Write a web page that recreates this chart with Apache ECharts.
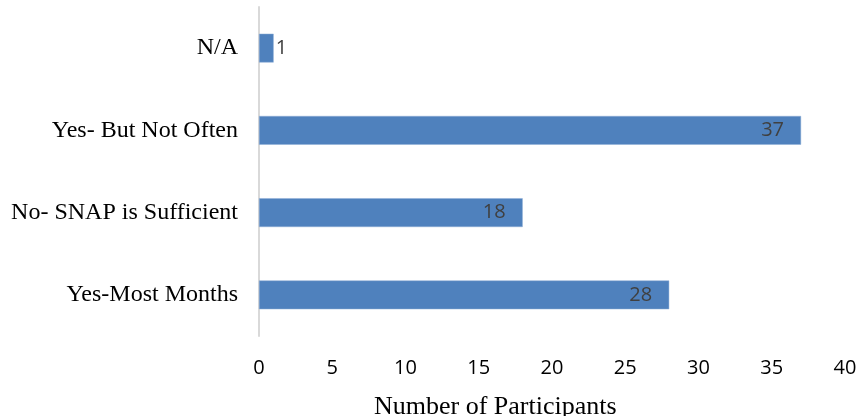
<!DOCTYPE html>
<html>
<head>
<meta charset="utf-8">
<script src="https://cdn.jsdelivr.net/npm/echarts@6/dist/echarts.min.js"></script>
<style>
  html, body { margin: 0; padding: 0; background: #fff; }
  #chart { width: 860px; height: 416px; }
</style>
</head>
<body>
<div id="chart"></div>
<script>
// categories from bottom to top
var categories = ['Yes-Most Months', 'No- SNAP is Sufficient', 'Yes- But Not Often', 'N/A'];
var participants = [28, 18, 37, 1];
var axisTitle = 'Number of Participants';

var myChart = echarts.init(document.getElementById('chart'));

var option = {
    animation: false,
    title: {
        text: axisTitle,
        left: 369,
        top: 389,
        textStyle: {
            fontFamily: 'Liberation Serif',
            fontSize: 26,
            fontWeight: 'normal',
            color: '#000'
        }
    },
    grid: {
        left: 259,
        right: 15,
        top: 7,
        bottom: 80,
        containLabel: false
    },
    xAxis: {
        type: 'value',
        min: 0,
        max: 40,
        interval: 5,
        axisLine: { show: false },
        axisTick: { show: false },
        splitLine: { show: false },
        axisLabel: {
            margin: 22,
            fontFamily: 'Open Sans',
            fontSize: 20,
            color: '#000'
        }
    },
    yAxis: {
        type: 'category',
        data: categories,
        axisLine: { show: true, lineStyle: { color: '#d9d9d9', width: 2 } },
        axisTick: { show: false },
        axisLabel: {
            margin: 21,
            fontFamily: 'Liberation Serif',
            fontSize: 24,
            color: '#000'
        }
    },
    series: [{
        type: 'bar',
        data: participants,
        barWidth: '35%',
        itemStyle: {
            color: '#4f81bd',
            borderColor: '#8eaed6',
            borderWidth: 0.5
        },
        label: {
            show: true,
            position: 'insideRight',
            distance: 17,
            fontFamily: 'Open Sans',
            fontSize: 20,
            color: '#404040',
            formatter: function (p) { return p.value; }
        }
    }]
};

// the tiny bar keeps its label outside
option.series[0].data = participants.map(function (v) {
    if (v < 3) {
        return { value: v, label: { position: 'right', distance: 2 } };
    }
    return v;
});

myChart.setOption(option);
</script>
</body>
</html>
